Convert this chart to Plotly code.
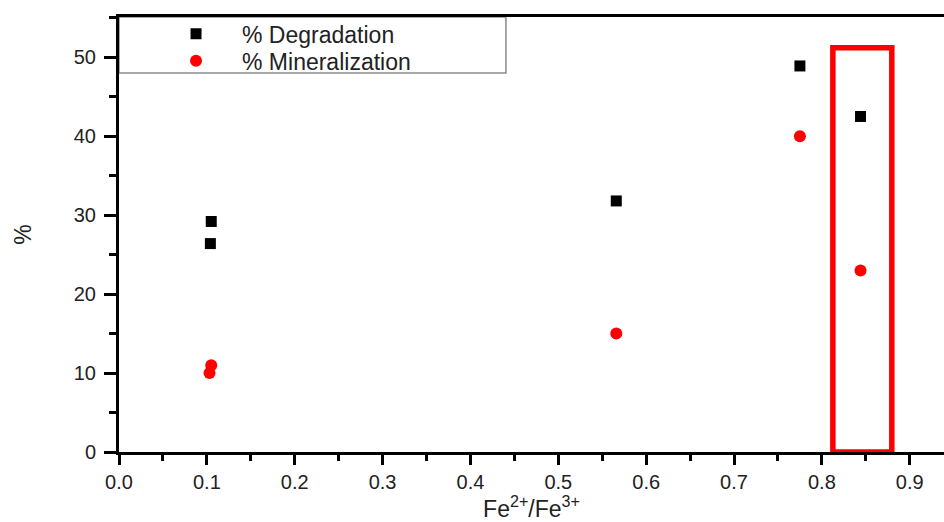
import plotly.graph_objects as go

# Data
deg_x = [0.105, 0.104, 0.566, 0.775, 0.844]
deg_y = [29.2, 26.4, 31.8, 48.9, 42.5]
min_x = [0.105, 0.103, 0.566, 0.775, 0.844]
min_y = [11.0, 10.0, 15.0, 40.0, 23.0]

x_ticks = [0.0, 0.1, 0.2, 0.3, 0.4, 0.5, 0.6, 0.7, 0.8, 0.9]
y_ticks = [0, 10, 20, 30, 40, 50]

# highlighted region (data coords)
box_x = [0.8125, 0.8796]
box_y = [0, 51.2]

FONT = "Liberation Sans, Arial, sans-serif"
LEG_FONT = dict(size=23, family=FONT, color="#222222")

fig = go.Figure()
fig.add_trace(go.Scatter(
    x=deg_x, y=deg_y, mode="markers", name="% Degradation",
    marker=dict(symbol="square", size=11, color="black"),
    legend="legend",
))
fig.add_trace(go.Scatter(
    x=min_x, y=min_y, mode="markers", name="% Mineralization",
    marker=dict(symbol="circle", size=12, color="#ff0000"),
    legend="legend2",
))

fig.add_shape(type="rect", xref="x", yref="y",
              x0=box_x[0], x1=box_x[1], y0=box_y[0], y1=box_y[1],
              line=dict(color="#ff0000", width=5.5))

# legend frame
fig.add_shape(type="rect", xref="paper", yref="paper",
              x0=0, x1=0.469, y0=0.871, y1=1.0,
              line=dict(color="#8a8a8a", width=1.5), fillcolor="white", layer="below")

fig.update_layout(
    width=944, height=522,
    margin=dict(l=119, r=0, t=17, b=70),
    paper_bgcolor="white", plot_bgcolor="white",
    font=dict(family=FONT, color="#222222"),
    showlegend=True,
    legend=dict(x=0.0376, y=1.011, xanchor="left", yanchor="top",
                bgcolor="rgba(0,0,0,0)", borderwidth=0,
                font=LEG_FONT, itemwidth=82),
    legend2=dict(x=0.0376, y=0.949, xanchor="left", yanchor="top",
                 bgcolor="rgba(0,0,0,0)", borderwidth=0,
                 font=LEG_FONT, itemwidth=82),
    xaxis=dict(
        range=[0, 0.939], tickvals=x_ticks,
        ticktext=[f"{v:.1f}" for v in x_ticks],
        showgrid=False, zeroline=False,
        showline=True, linecolor="black", linewidth=3, mirror=True,
        ticks="outside", ticklen=10, tickwidth=3, tickcolor="black",
        minor=dict(dtick=0.05, tick0=0, ticks="outside", ticklen=6, tickwidth=3, tickcolor="black"),
        tickfont=dict(size=20, family=FONT, color="#222222"),
        title=dict(text="Fe<sup>2+</sup>/Fe<sup>3+</sup>", font=dict(size=23, family=FONT, color="#222222"), standoff=18),
        automargin=False,
    ),
    yaxis=dict(
        range=[0, 55.1], tickvals=y_ticks,
        showgrid=False, zeroline=False,
        showline=True, linecolor="black", linewidth=3, mirror=False,
        ticks="outside", ticklen=12, tickwidth=3, tickcolor="black",
        minor=dict(dtick=5, tick0=0, ticks="outside", ticklen=7, tickwidth=3, tickcolor="black"),
        tickfont=dict(size=20, family=FONT, color="#222222"),
        ticklabelstandoff=4,
        title=dict(text="%", font=dict(size=23, family=FONT, color="#222222"), standoff=36),
        automargin=False,
    ),
)

fig.write_html("out.html")
